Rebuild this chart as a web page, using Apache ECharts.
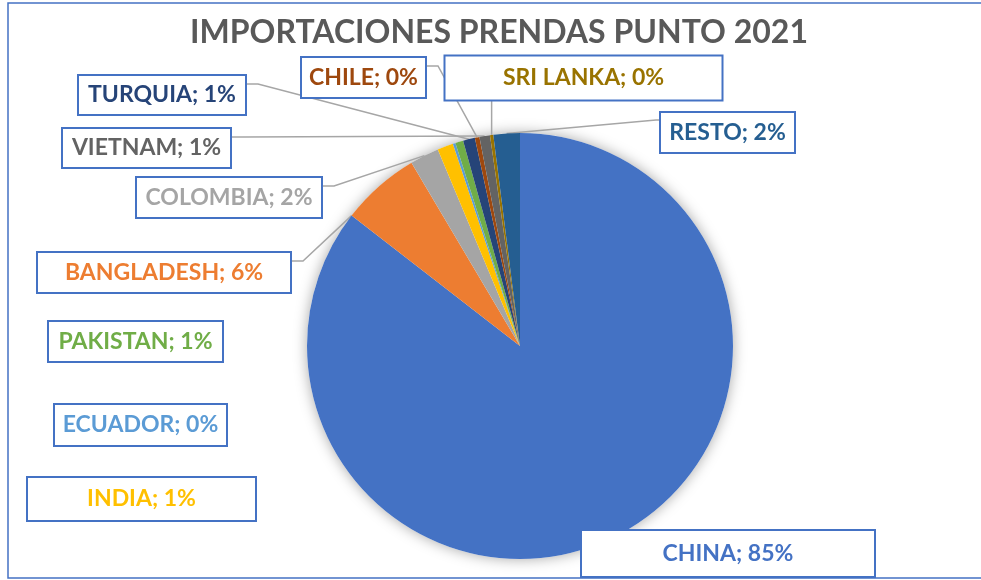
<!DOCTYPE html>
<html><head><meta charset="utf-8">
<script src="https://cdn.jsdelivr.net/npm/echarts@6/dist/echarts.min.js"></script>
<style>html,body{margin:0;padding:0;background:#fff}#c{width:981px;height:580px}</style>
</head><body><div id="c"></div>
<script>
const titleText = 'IMPORTACIONES PRENDAS PUNTO 2021';
const categories = ['CHINA','BANGLADESH','COLOMBIA','INDIA','ECUADOR','PAKISTAN','TURQUIA','CHILE','VIETNAM','SRI LANKA','RESTO'];
const shares = [85.4, 6.0, 2.2, 1.2, 0.2, 0.6, 0.9, 0.35, 0.8, 0.25, 2.0];
const colors = ['#4472C4','#ED7D31','#A5A5A5','#FFC000','#5B9BD5','#70AD47','#264478','#9E480E','#636363','#997300','#255E91'];

// label box layout (style only): [centerX, centerY, width, height, leader mode, attach fraction]
const labelBoxes = [
  [728, 553.5, 294, 47, null],
  [164, 272.5, 254, 41, 'R', 0.0],
  [229, 197.5, 186, 41, 'R', 0.5],
  [141.5, 499, 229, 44, null],
  [140.5, 425, 173, 42, null],
  [135.5, 341.5, 175, 41, null],
  [162, 95, 168, 40, 'R', 0.5],
  [363.5, 77.5, 125, 41, 'R', 0.5],
  [146.5, 148, 169, 40, 'R', 0.5],
  [583.5, 78, 278, 45, 'B', 0.5],
  [727.5, 132.5, 135, 41, 'L', 0.5]
];
const CX = 520, CY = 346, R = 213;
const total = shares.reduce((a, b) => a + b, 0);
function anchor(i, f) {
  let cum = 0;
  for (let k = 0; k < i; k++) cum += shares[k];
  const a = (90 - (cum + f * shares[i]) / total * 360) * Math.PI / 180;
  return [CX + R * Math.cos(a), CY - R * Math.sin(a)];
}

const data = categories.map((name, i) => {
  const b = labelBoxes[i];
  return {
    name: name,
    value: shares[i],
    itemStyle: { color: colors[i] },
    label: { color: colors[i], width: b[2] - 2, height: b[3] - 2, lineHeight: b[3] - 2 },
    labelLine: { show: !!b[4] }
  };
});

const chart = echarts.init(document.getElementById('c'), null, { renderer: 'canvas' });
chart.setOption({
  animation: false,
  backgroundColor: '#fff',
  graphic: [
    { type: 'rect', z: 0, shape: { x: 8, y: 3, width: 1000, height: 575 }, style: { fill: 'none', stroke: '#4472C4', lineWidth: 1.5 } },
    { type: 'text', z: 10, x: 499, y: 33, style: { text: titleText, fill: '#595959', font: 'bold 32px Lato', textAlign: 'center', textVerticalAlign: 'middle' } }
  ],
  series: [
    {
      type: 'pie', silent: true, z: 1,
      center: [CX, CY], radius: R,
      data: [{ value: total, name: '' }],
      itemStyle: { color: '#fff', shadowBlur: 14, shadowColor: 'rgba(0,0,0,0.35)' },
      label: { show: false }, labelLine: { show: false }
    },
    {
      type: 'pie', z: 2,
      center: [CX, CY], radius: R,
      startAngle: 90, clockwise: true,
      avoidLabelOverlap: false,
      minShowLabelAngle: 0,
      emphasis: { disabled: true },
      itemStyle: { borderWidth: 0 },
      data: data,
      label: {
        show: true, position: 'outside',
        formatter: p => p.name + '; ' + Math.round(p.percent) + '%',
        fontFamily: 'Lato', fontWeight: 'bold', fontSize: 23,
        align: 'center', verticalAlign: 'middle',
        backgroundColor: '#fff', borderColor: '#4472C4', borderWidth: 2, padding: 0
      },
      labelLine: { show: true, lineStyle: { color: '#A6A6A6', width: 1.5 } },
      labelLayout: function (p) {
        const b = labelBoxes[p.dataIndex];
        const out = { x: b[0], y: b[1], align: 'center', verticalAlign: 'middle' };
        if (b[4]) {
          const a = anchor(p.dataIndex, b[5]);
          const left = b[0] - b[2] / 2, right = b[0] + b[2] / 2;
          const top = b[1] - b[3] / 2, bottom = b[1] + b[3] / 2;
          let pts;
          if (b[4] === 'R') { const y = top + 9; pts = [a, [right + 12, y], [right, y]]; }
          else if (b[4] === 'L') { const y = top + 8; pts = [a, [left - 4, y], [left, y]]; }
          else { pts = [a, [a[0], bottom], [a[0], bottom]]; }
          out.labelLinePoints = pts;
        }
        return out;
      }
    }
  ]
});
</script>
</body></html>
